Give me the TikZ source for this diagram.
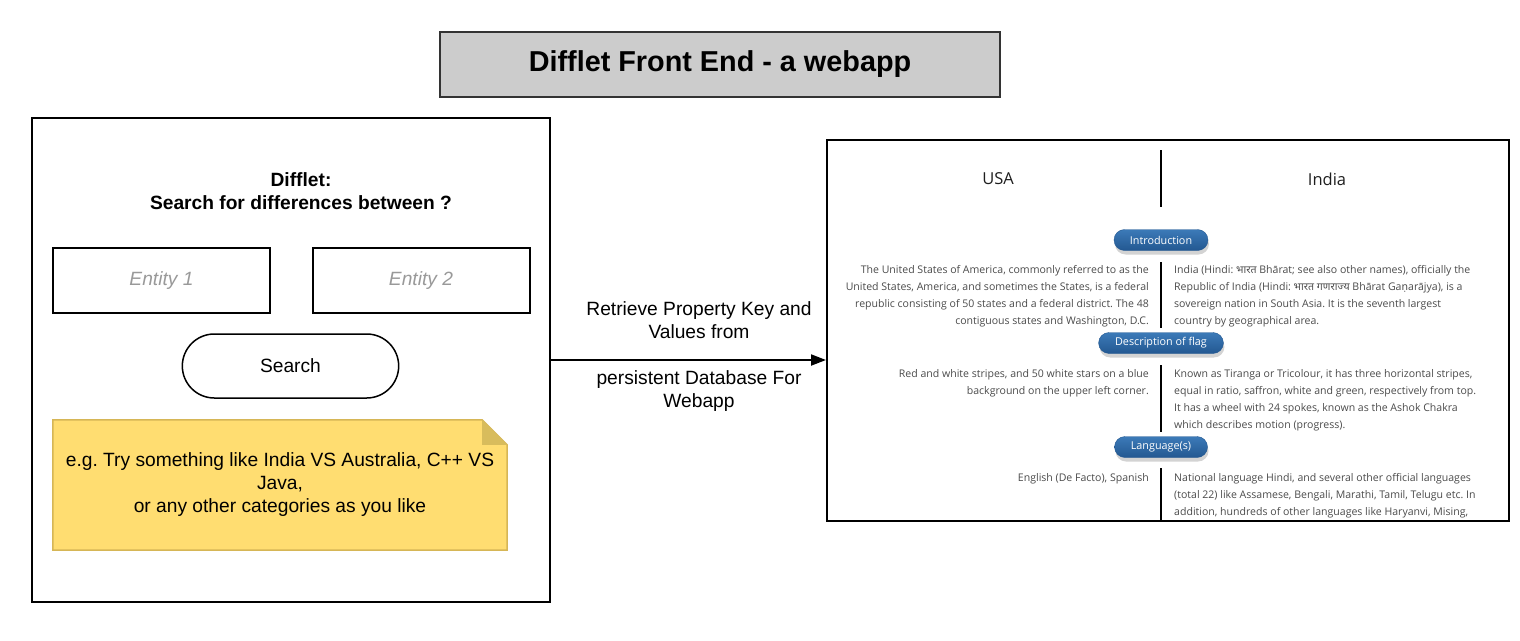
\documentclass[tikz,border=0pt]{standalone}
\usepackage{fontspec}
\setmainfont{Liberation Sans}
\newfontfamily\webfont{Open Sans}
\newfontfamily\webalt{Noto Sans}
\newfontfamily\devfont[Script=Devanagari]{Noto Sans}
\usepackage{tikz}
\usetikzlibrary{arrows.meta,backgrounds,calc,shapes.misc,shadows}
\frenchspacing

\definecolor{titlegray}{HTML}{CCCCCC}
\definecolor{titleline}{HTML}{333333}
\definecolor{notefill}{HTML}{FFDD71}
\definecolor{noteline}{HTML}{D6B656}
\definecolor{notefold}{HTML}{D8BC5C}
\definecolor{pilltop}{HTML}{3C7AB8}
\definecolor{pillbot}{HTML}{235891}
\definecolor{webhead}{HTML}{1E1E1E}
\definecolor{webtext}{HTML}{4A4A4A}
\definecolor{placeholder}{HTML}{999999}

\tikzset{
  titlebox/.style={draw=titleline, fill=titlegray, line width=2pt, minimum width=560, minimum height=65, font=\fontsize{28.8}{34}\selectfont\bfseries},
  panel/.style={draw=black, line width=2pt, inner sep=0pt},
  entitybox/.style={draw=black, line width=2pt, minimum width=217, minimum height=65, text=placeholder, font=\fontsize{19.2}{23}\selectfont\itshape},
  searchbtn/.style={rounded rectangle, draw=black, line width=1.5pt, minimum width=223, minimum height=64, font=\fontsize{19.2}{23}\selectfont},
  uitext/.style={align=center, font=\fontsize{19.2}{23}\selectfont},
  notestyle/.style={fill=notefill, draw=noteline, line width=1.5pt},
  pill/.style={rounded rectangle, top color=pilltop, bottom color=pillbot, draw=pillbot, text=white, minimum height=21, inner xsep=15, inner ysep=0, font=\webfont\fontsize{10.8}{12}\selectfont, drop shadow={opacity=0.35, shadow xshift=1, shadow yshift=4}},
  webheading/.style={text=webhead, font=\webfont\fontsize{16.5}{19}\selectfont},
  webbody/.style={text=webtext, inner sep=0pt, font=\webfont\fontsize{10.55}{17}\selectfont}
}

\begin{document}
\begin{tikzpicture}[x=1pt, y=-1pt]
\useasboundingbox (0,0) rectangle (1520,640);

\node[titlebox] (title) at (720,64.5) {Difflet Front End - a webapp};

% search page
\node[panel, minimum width=518, minimum height=484] (front) at (291,360) {};
\node[uitext, font=\fontsize{19.2}{23}\selectfont\bfseries] (heading) at (301,191.5) {Difflet:\\Search for differences between ?};
\node[entitybox] (entity1) at (161.5,280.5) {Entity 1};
\node[entitybox] (entity2) at (421,280.5) {Entity 2};
\node[searchbtn] (search) at (290.5,366) {Search};
\node[uitext, minimum width=454, minimum height=130, inner sep=0pt] (hint) at (280,485) {e.g. Try something like India VS Australia, C++ VS\\Java,\\or any other categories as you like};
\begin{scope}[on background layer]
\draw[notestyle] (hint.north west) -- ($(hint.north east)+(-25,0)$) -- ($(hint.north east)+(0,25)$) -- (hint.south east) -- (hint.south west) -- cycle;
\fill[notefold] ($(hint.north east)+(-25,0)$) -- ($(hint.north east)+(-25,25)$) -- ($(hint.north east)+(0,25)$) -- cycle;
\end{scope}

% result page
\node[panel, minimum width=682, minimum height=381] (web) at (1168,330.5) {};
\node[webheading] (usa) at (998,179) {USA};
\node[webheading] (india) at (1327,179) {India};
\foreach \ya/\yb in {150/207, 262/328, 365/432, 468/520}
  \draw[line width=2pt] (1161,\ya) -- (1161,\yb);

\node[pill] (intro) at (1161,240) {Introduction};
\node[pill] (flag) at (1161,343) {Description of flag};
\node[pill] (lang) at (1161,447) {Language(s)};

\node[webbody, anchor=north east, align=right] (usaintro) at (1149,265) {The United States of America, commonly referred to as the\\United States, America, and sometimes the States, is a federal\\republic consisting of 50 states and a federal district. The 48\\contiguous states and Washington, D.C.};
\node[webbody, anchor=north west, align=left] (indiaintro) at (1174,265) {India (Hindi: {\devfont भारत} Bhārat; see also other names), officially the\\Republic of India (Hindi: {\devfont भारत गणराज्य} Bhārat Ga{\webalt ṇ}arājya), is a\\sovereign nation in South Asia. It is the seventh largest\\country by geographical area.};
\node[webbody, anchor=north east, align=right] (usaflag) at (1149,369) {Red and white stripes, and 50 white stars on a blue\\background on the upper left corner.};
\node[webbody, anchor=north west, align=left] (indiaflag) at (1174,369) {Known as Tiranga or Tricolour, it has three horizontal stripes,\\equal in ratio, saffron, white and green, respectively from top.\\It has a wheel with 24 spokes, known as the Ashok Chakra\\which describes motion (progress).};
\node[webbody, anchor=north east, align=right] (usalang) at (1149,473) {English (De Facto), Spanish};
\node[webbody, anchor=north west, align=left] (indialang) at (1174,473) {National language Hindi, and several other official languages\\(total 22) like Assamese, Bengali, Marathi, Tamil, Telugu etc. In\\addition, hundreds of other languages like Haryanvi, Mising,};

% connector
\draw[-{Triangle[length=15pt,width=11pt]}, line width=2pt] (front.east) -- (front.east -| web.west);
\node[uitext] (fetch) at (699,320.5) {Retrieve Property Key and\\Values from};
\node[uitext] (store) at (699,391) {persistent Database For\\Webapp};
\end{tikzpicture}
\end{document}
